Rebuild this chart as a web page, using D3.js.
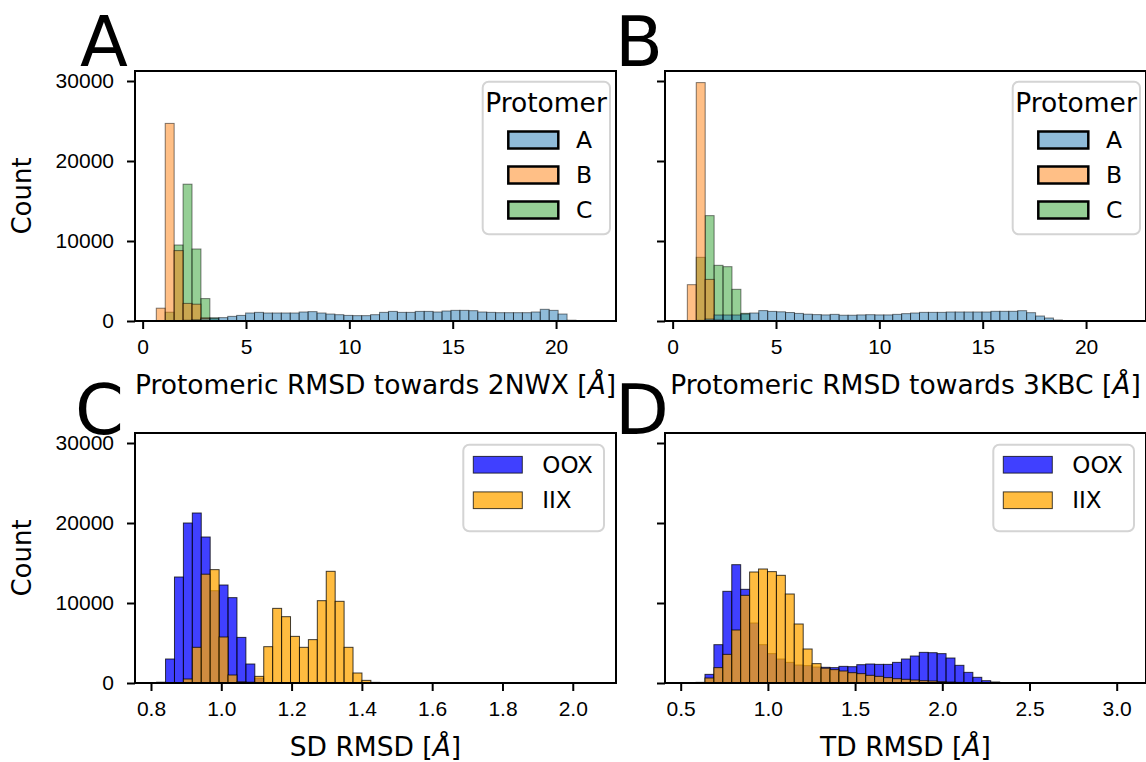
<!DOCTYPE html>
<html lang="en">
<head>
<meta charset="UTF-8">
<title>RMSD histograms</title>
<script src="https://d3js.org/d3.v7.min.js"></script>
<style>
  body { margin: 0; background: #fff; }
  svg { display: block; font-family: "DejaVu Sans", sans-serif; }
  .tick text { font-size: 21px; fill: #000; }
  .tick line { stroke: #000; stroke-width: 2; }
</style>
</head>
<body>
<svg width="1146" height="762"></svg>
<script>
// ---- data (counts per histogram bin) ----
const protomers = ["A", "B", "C"];
const states = ["OOX", "IIX"];
const countTicks = [0, 10000, 20000, 30000];
const rmsdTicks = [0, 5, 10, 15, 20];
const sdTicks = [0.8, 1.0, 1.2, 1.4, 1.6, 1.8, 2.0];
const tdTicks = [0.5, 1.0, 1.5, 2.0, 2.5, 3.0];

// bin start / bin width of each histogram
const nwxBins = [0.66, 0.432];
const kbcBins = [0.71, 0.432];
const sdBins = [0.816, 0.0254];
const tdBins = [0.588, 0.0512];

// towards 2NWX
const nwxA = [0, 0, 50, 100, 150, 300, 330, 420, 580, 700, 1000, 1080, 1000, 1000, 1000,
  1000, 1125, 1170, 1000, 870, 790, 700, 670, 670, 790, 1080, 1200, 1080, 1080, 1200,
  1200, 1125, 1250, 1330, 1330, 1290, 1125, 1080, 1040, 1040, 1040, 1040, 1125, 1460,
  1330, 870, 100];
const nwxB = [1600, 24700, 8800, 2200, 2100, 400, 100];
const nwxC = [0, 1100, 9500, 17100, 9000, 2800, 400, 50];

// towards 3KBC
const kbcA = [0, 80, 250, 750, 750, 750, 875, 1000, 1300, 1200, 1150, 1060, 950, 850, 800,
  760, 830, 720, 720, 760, 790, 760, 760, 830, 920, 1000, 1080, 1080, 1080, 1125, 1125,
  1125, 1125, 1125, 1210, 1210, 1210, 1290, 1040, 625, 375, 125];
const kbcB = [4540, 29800, 5200, 200, 100];
const kbcC = [0, 7960, 13170, 6960, 6790, 3960, 960, 50];

// SD RMSD
const sdOOX = [100, 3000, 13250, 20000, 21250, 18250, 11540, 12250, 10670, 5700, 2375, 600];
const sdIIX = [0, 0, 0, 500, 4460, 13600, 14170, 5750, 1000, 150, 100, 830, 4540, 9330,
  8290, 5830, 4460, 5420, 10290, 13960, 10210, 4460, 1250, 330, 80];

// TD RMSD
const tdOOX = [80, 1080, 4790, 11460, 14790, 11710, 7500, 4790, 3670, 3000, 2580, 2250, 2170,
  2000, 1960, 1920, 2080, 2040, 2290, 2375, 2330, 2330, 2580, 3000, 3375, 3830, 3790, 3670,
  3125, 2210, 1330, 710, 290, 125, 40];
const tdIIX = [0, 625, 1920, 3580, 6625, 10960, 13875, 14250, 13920, 13460, 11125, 7375, 4250,
  2420, 1850, 1670, 1500, 1290, 1170, 960, 830, 670, 540, 460, 375, 290, 250, 170, 125, 80,
  40, 20];

// ---- styling ----
const protColor = d3.scaleOrdinal().domain(protomers).range(["#1f77b4", "#ff7f0e", "#2ca02c"]);
const stateColor = d3.scaleOrdinal().domain(states).range(["blue", "orange"]);

const svg = d3.select("svg");

const panels = [
  { letter: "A", lx: 80, ly: 65.5, left: 135, right: 616, top: 71, bottom: 321,
    xDomain: [-0.37, 22.9], ticks: rmsdTicks, fmt: d3.format("d"),
    label: "Protomeric RMSD towards 2NWX ", bins: nwxBins, alpha: 0.5,
    // seaborn draws the last hue first
    series: [["C", nwxC], ["B", nwxB], ["A", nwxA]], kind: "prot", yLabels: true },
  { letter: "B", lx: 615, ly: 65.5, left: 665, right: 1146, top: 71, bottom: 321,
    xDomain: [-0.37, 22.9], ticks: rmsdTicks, fmt: d3.format("d"),
    label: "Protomeric RMSD towards 3KBC ", bins: kbcBins, alpha: 0.5,
    series: [["C", kbcC], ["B", kbcB], ["A", kbcA]], kind: "prot", yLabels: false },
  { letter: "C", lx: 75, ly: 434, left: 135, right: 616, top: 433, bottom: 683,
    xDomain: [0.7545, 2.123], ticks: sdTicks, fmt: d3.format(".1f"),
    label: "SD RMSD ", bins: sdBins, alpha: 0.75,
    series: [["OOX", sdOOX], ["IIX", sdIIX]], kind: "state", yLabels: true },
  { letter: "D", lx: 615, ly: 434, left: 665, right: 1146, top: 433, bottom: 683,
    xDomain: [0.41, 3.168], ticks: tdTicks, fmt: d3.format(".1f"),
    label: "TD RMSD ", bins: tdBins, alpha: 0.75,
    series: [["OOX", tdOOX], ["IIX", tdIIX]], kind: "state", yLabels: false }
];

panels.forEach(p => {
  const x = d3.scaleLinear().domain(p.xDomain).range([p.left, p.right]);
  const y = d3.scaleLinear().domain([0, 31250]).range([p.bottom, p.top]);
  const color = p.kind === "prot" ? protColor : stateColor;
  const [start, width] = p.bins;

  const g = svg.append("g");

  // bars
  p.series.forEach(([key, values]) => {
    const bins = values.map((v, i) => ({ x0: start + i * width, x1: start + (i + 1) * width, v }))
      .filter(d => d.v > 0);
    g.append("g").selectAll("rect")
      .data(bins)
      .join("rect")
        .attr("x", d => x(d.x0))
        .attr("width", d => x(d.x1) - x(d.x0))
        .attr("y", d => y(d.v))
        .attr("height", d => y(0) - y(d.v))
        .attr("fill", color(key))
        .attr("fill-opacity", p.alpha)
        .attr("stroke", "#000")
        .attr("stroke-opacity", p.alpha)
        .attr("stroke-width", 1);
  });

  // axes
  const xa = g.append("g")
    .attr("transform", `translate(0,${p.bottom})`)
    .call(d3.axisBottom(x).tickValues(p.ticks).tickFormat(p.fmt).tickSize(8).tickPadding(10));
  const ya = g.append("g")
    .attr("transform", `translate(${p.left},0)`)
    .call(d3.axisLeft(y).tickValues(countTicks).tickSize(8).tickPadding(13)
      .tickFormat(p.yLabels ? d3.format("d") : () => ""));
  xa.select(".domain").remove();
  ya.select(".domain").remove();
  xa.selectAll("text").attr("font-family", null).attr("font-size", null);
  ya.selectAll("text").attr("font-family", null).attr("font-size", null);

  // frame
  g.append("rect")
    .attr("x", p.left).attr("y", p.top)
    .attr("width", p.right - p.left).attr("height", p.bottom - p.top)
    .attr("fill", "none").attr("stroke", "#000").attr("stroke-width", 2);

  // x label with italic angstrom
  const xl = g.append("text")
    .attr("x", (p.left + p.right) / 2).attr("y", p.bottom + 73)
    .attr("text-anchor", "middle").attr("font-size", 26.5);
  xl.append("tspan").text(p.label + "[");
  xl.append("tspan").attr("font-style", "italic").text("Å");
  xl.append("tspan").text("]");

  if (p.yLabels) {
    g.append("text")
      .attr("transform", `translate(31,${(p.top + p.bottom) / 2}) rotate(-90)`)
      .attr("text-anchor", "middle").attr("font-size", 26)
      .text("Count");
  }

  // panel letter
  svg.append("text")
    .attr("x", p.lx).attr("y", p.ly)
    .attr("font-size", 70)
    .text(p.letter);

  // legend
  const lg = g.append("g");
  if (p.kind === "prot") {
    lg.append("rect")
      .attr("x", p.right - 133.3).attr("y", p.top + 10.7)
      .attr("width", 127.3).attr("height", 152.6).attr("rx", 6)
      .attr("fill", "#fff").attr("fill-opacity", 0.8)
      .attr("stroke", "#d4d4d4").attr("stroke-width", 2);
    lg.append("text")
      .attr("x", p.right - 70).attr("y", p.top + 41)
      .attr("text-anchor", "middle").attr("font-size", 26.5)
      .text("Protomer");
    protomers.forEach((k, i) => {
      const cy = p.top + 69 + i * 35;
      lg.append("rect")
        .attr("x", p.right - 107.7).attr("y", cy - 8.5)
        .attr("width", 50).attr("height", 17)
        .attr("fill", protColor(k)).attr("fill-opacity", 0.5)
        .attr("stroke", "#000").attr("stroke-width", 2.5);
      lg.append("text")
        .attr("x", p.right - 40).attr("y", cy)
        .attr("dominant-baseline", "central").attr("font-size", 23.5)
        .text(k);
    });
  } else {
    lg.append("rect")
      .attr("x", p.right - 152.7).attr("y", p.top + 11.7)
      .attr("width", 140.7).attr("height", 86.6).attr("rx", 6)
      .attr("fill", "#fff").attr("fill-opacity", 0.8)
      .attr("stroke", "#d4d4d4").attr("stroke-width", 2);
    states.forEach((k, i) => {
      const cy = p.top + 31.7 + i * 35.5;
      lg.append("rect")
        .attr("x", p.right - 142.7).attr("y", cy - 8.3)
        .attr("width", 49).attr("height", 16.7)
        .attr("fill", stateColor(k)).attr("fill-opacity", 0.75)
        .attr("stroke", "#000").attr("stroke-opacity", 0.75).attr("stroke-width", 1);
      lg.append("text")
        .attr("x", p.right - 73.7).attr("y", cy)
        .attr("dominant-baseline", "central").attr("font-size", 23)
        .text(k);
    });
  }
});
</script>
</body>
</html>
